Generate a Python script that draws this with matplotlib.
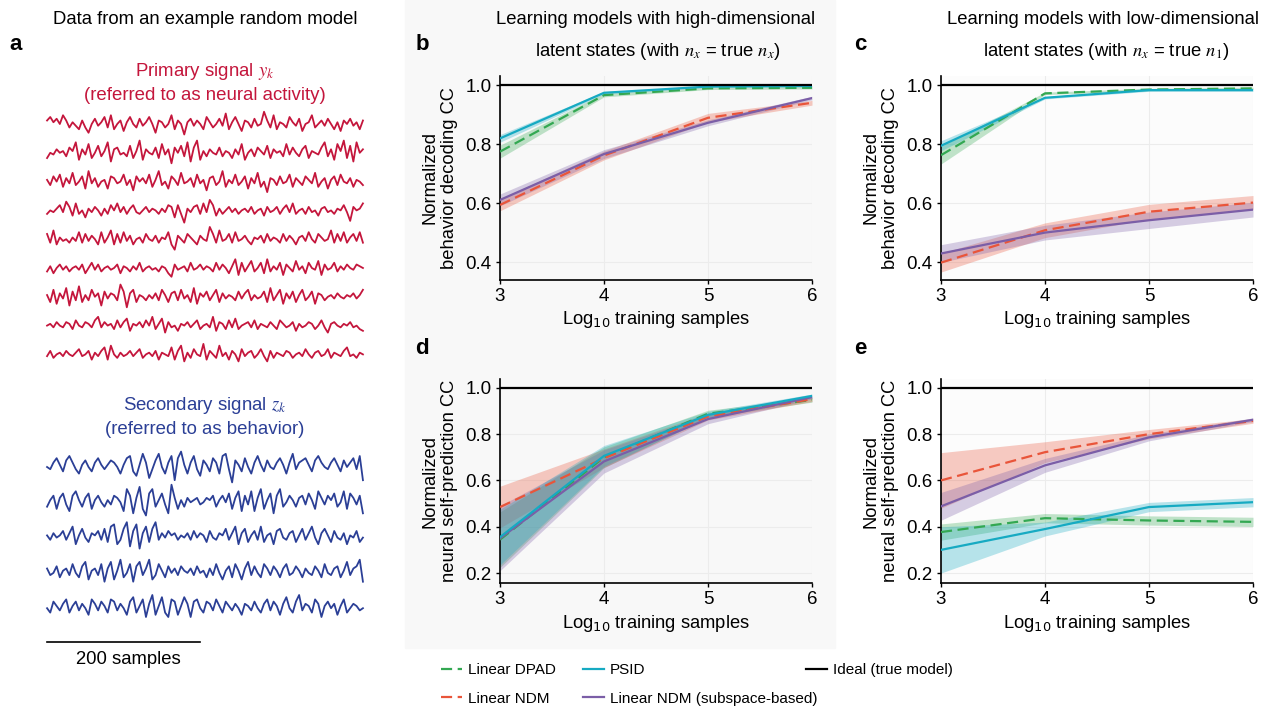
import numpy as np
import matplotlib
matplotlib.use("Agg")
import matplotlib.pyplot as plt
from matplotlib.patches import Rectangle
from matplotlib.lines import Line2D

plt.rcParams['font.family'] = ['Liberation Sans', 'DejaVu Sans']
plt.rcParams['mathtext.fontset'] = 'stix'

W, H = 1281, 711

# ---- example random model traces (arbitrary units) ----
red_traces = [
    [2,4,1,3,0,5,2,-2,1,-1,-3,2,-2,-5,0,3,-1,1,4,-2,5,-3,0,2,-4,1,4,0,-2,3,-1,1,4,0,-5,2,1,-2,0,5,-3,2,0,-6,1,3,-1,2,0,-3,4,1,-2,0,3,-1,6,-3,1,4,0,-4,2,1,-2,3,-1,0,7,2,-2,5,-3,1,0,-2,4,1,-1,3,-4,0,1,5,-2,0,2,-1,3,0,-3,1,-4,2,0,3,-1,1,-3,2],
    [-3,0,-1,2,0,1,-2,3,1,6,-4,2,-1,5,-3,0,4,-2,1,6,-5,2,3,-1,0,-2,4,-3,1,7,-4,2,0,-1,3,-3,5,-1,2,-6,3,0,4,-2,6,-5,3,7,-4,1,-2,2,0,-1,3,-2,1,0,-3,2,-1,5,-4,0,2,-2,3,1,-1,4,-3,2,0,1,-2,5,-1,3,0,-2,2,4,-3,1,0,-1,3,6,-2,2,-4,5,1,7,-3,4,-5,6,0,2],
    [1,-2,3,0,4,-3,2,-1,5,-2,0,3,-4,6,-1,2,-3,0,1,-4,3,2,-1,0,4,-2,1,-5,3,0,2,-1,4,-3,1,6,-2,0,-4,3,1,-2,5,-1,0,2,-3,4,-1,1,-5,2,3,-2,0,6,-3,1,-1,4,-2,0,3,-4,2,-1,5,-3,0,-6,2,1,-2,3,-1,0,4,-3,2,0,-2,3,1,-1,5,-3,0,2,-4,1,3,-2,4,0,-1,2,-3,1,0,-2],
    [-2,0,-1,1,3,-1,5,2,-3,4,-2,0,-4,1,-1,2,0,-3,1,-2,3,0,4,-1,2,-2,1,3,-1,-2,0,2,-1,1,0,-2,1,-1,3,2,-4,3,-2,-7,1,-1,2,3,-2,4,-1,6,3,-3,1,-2,0,2,-1,1,-2,0,1,-1,2,-2,0,1,-3,2,-1,0,2,-2,1,3,-1,4,-2,0,1,-2,2,-1,0,-3,1,2,-1,0,-2,1,0,3,-1,-6,2,0,1,4],
    [3,-2,5,-3,1,-1,0,-2,1,-1,4,-2,3,-1,2,0,-3,4,-2,1,5,-3,3,-2,4,-1,2,-3,0,1,-2,3,0,-1,2,-2,1,0,4,-3,-6,2,0,-2,3,1,-1,-3,2,0,-1,7,3,-2,5,-1,0,3,-2,4,-1,0,2,-1,-3,1,0,2,-2,3,-1,1,0,-2,3,-1,2,0,-3,1,2,-1,4,0,-2,3,1,-1,0,5,-2,3,-1,4,-2,1,3,-1,4,-2],
    [-2,1,-3,0,2,-1,1,-2,0,1,-1,2,-3,0,3,-1,2,-2,0,1,-1,0,2,-3,1,0,-2,1,-1,3,-2,0,1,-1,0,-2,1,0,-3,-5,2,-1,0,1,-2,3,-1,0,2,-1,1,0,-2,3,-1,2,0,-3,1,5,-4,3,-2,1,4,-2,0,3,-3,5,-2,1,-1,3,-4,2,0,-2,4,-1,1,-3,3,0,-1,4,-4,2,-1,0,3,-2,1,-1,2,0,-1,2,1,0],
    [1,-3,4,-4,2,-1,5,-5,3,-2,6,-3,1,-2,4,0,2,-5,3,-1,2,1,-2,7,3,-6,2,4,-3,1,0,-2,1,-1,2,-2,4,1,-3,2,3,-2,4,-1,1,-3,5,-4,2,0,3,-2,1,4,-3,2,-1,1,0,-2,3,-1,2,4,-2,1,-1,0,3,-3,5,-2,1,4,-4,2,-1,3,-3,1,4,-2,0,3,-4,2,1,-2,0,1,-1,2,0,-1,1,0,2,-1,1,4],
    [0,1,-1,2,0,-1,2,1,-2,3,0,-1,2,1,-1,3,5,-1,2,0,1,-2,3,-1,2,4,-3,1,0,2,-1,3,0,5,-2,1,4,-4,2,-1,0,-3,1,0,2,-1,1,3,-2,0,1,-1,5,-3,2,1,-2,3,-1,4,-2,0,1,2,-1,3,-2,1,0,-1,2,0,-2,3,1,-1,0,2,-3,1,-1,0,2,1,-2,0,3,-1,-4,1,2,0,-1,1,0,2,-1,0,-2,-3],
    [-1,2,-2,0,1,-1,2,0,-1,1,3,-1,0,2,-3,1,-1,2,4,-3,5,0,-2,1,-1,0,2,-1,1,3,-2,0,1,-1,2,-3,1,0,-1,4,-3,2,5,-4,1,-2,3,0,-1,6,-3,2,0,-2,5,-1,1,-3,2,0,-4,3,-1,1,2,-2,0,3,-1,-4,2,-2,1,0,-1,2,1,-2,0,1,-1,3,0,-2,1,2,-1,0,3,-2,1,0,-1,2,4,-1,0,-2,1,0],
]
blue_traces = [
    [0,-1,2,4,1,-2,3,5,2,-1,-3,1,3,0,-2,2,4,1,-1,1,3,2,0,-3,1,4,5,-2,-4,1,6,2,-5,-1,3,6,0,-3,2,5,-6,4,7,1,-3,2,5,-1,-4,3,1,-2,4,2,-3,5,6,-1,-7,3,1,-2,4,0,-3,2,5,1,-2,3,0,-1,2,4,1,-3,2,6,-1,2,3,4,1,-2,3,5,2,0,-1,2,4,1,-2,3,0,2,4,-1,5,-6],
    [-2,1,3,-3,2,4,-1,-4,3,5,1,-2,2,4,-3,1,3,0,-2,1,-1,3,2,0,-4,6,3,-5,2,7,-3,-6,4,6,-2,1,4,-1,-5,8,2,-3,1,-2,2,0,1,2,-1,0,2,1,3,-2,1,3,0,4,-3,2,5,-4,3,-1,5,-4,2,6,-3,1,4,-5,3,6,-2,0,3,1,-2,2,3,-1,4,1,-3,5,2,-1,3,1,4,-2,0,5,-3,4,2,-1,3,-5],
    [1,-1,2,0,1,3,-1,2,5,-3,1,4,0,-2,2,1,3,-1,4,-2,5,6,-3,-1,4,7,-4,3,6,-5,2,5,-2,4,7,-1,2,0,3,1,2,-1,1,0,2,-1,3,0,2,1,-2,3,0,-1,2,1,4,-1,2,5,-3,2,4,-2,1,3,-1,5,-2,1,2,-3,3,4,0,-1,2,3,-2,1,4,-1,2,5,0,-3,2,4,1,-2,3,0,-1,2,-3,1,0,3,-2,0],
    [2,-1,0,3,-2,1,2,-1,4,0,-2,3,5,-3,1,2,-1,4,-4,2,5,-3,1,6,-2,0,4,-4,3,5,-1,2,6,-3,-1,4,1,-2,3,0,2,-1,3,1,0,2,-1,3,0,1,-2,2,-1,4,0,-3,1,3,-2,4,1,-3,2,5,-1,3,0,-2,4,2,-1,3,1,-2,2,4,-1,0,3,1,-2,2,0,-1,3,1,-2,4,0,-1,2,3,-2,1,5,-1,2,3,6,-4],
    [0,-2,3,1,-1,2,4,-2,1,3,-1,2,0,-3,4,2,-1,3,1,-2,4,3,-1,2,0,-3,3,5,-2,1,4,-4,2,6,-3,1,5,-2,-4,4,3,-3,1,5,2,-4,3,4,0,-2,3,2,-1,4,1,-2,3,1,-1,2,0,-3,2,1,-1,3,0,-2,2,4,-1,3,1,-3,2,5,0,-2,3,6,-1,2,1,-2,4,2,-4,1,3,0,2,-3,1,4,-2,0,2,1,-1,0],
]
trace_samples = 413
scale_bar_samples = 200

# ---- learning curves: mean and half-width of shaded band ----
log_samples = [3, 4, 5, 6]

b_dpad = [0.775, 0.967, 0.990, 0.992]; b_dpad_err = [0.022, 0.006, 0.004, 0.004]
b_ndm  = [0.594, 0.762, 0.890, 0.941]; b_ndm_err  = [0.020, 0.015, 0.015, 0.008]
b_psid = [0.820, 0.975, 0.996, 0.998]; b_psid_err = [0.013, 0.004, 0.002, 0.002]
b_sub  = [0.611, 0.767, 0.873, 0.957]; b_sub_err  = [0.020, 0.015, 0.010, 0.006]

c_dpad = [0.763, 0.973, 0.986, 0.990]; c_dpad_err = [0.030, 0.004, 0.004, 0.004]
c_ndm  = [0.398, 0.508, 0.571, 0.602]; c_ndm_err  = [0.032, 0.025, 0.025, 0.024]
c_psid = [0.795, 0.958, 0.984, 0.984]; c_psid_err = [0.017, 0.004, 0.004, 0.004]
c_sub  = [0.429, 0.500, 0.542, 0.578]; c_sub_err  = [0.030, 0.025, 0.028, 0.025]

d_dpad = [0.344, 0.700, 0.888, 0.948]; d_dpad_err = [0.120, 0.045, 0.015, 0.010]
d_ndm  = [0.485, 0.696, 0.876, 0.951]; d_ndm_err  = [0.090, 0.040, 0.015, 0.010]
d_psid = [0.355, 0.706, 0.883, 0.965]; d_psid_err = [0.120, 0.045, 0.015, 0.008]
d_sub  = [0.350, 0.682, 0.865, 0.960]; d_sub_err  = [0.140, 0.050, 0.020, 0.008]

e_dpad = [0.377, 0.437, 0.427, 0.421]; e_dpad_err = [0.035, 0.020, 0.020, 0.020]
e_ndm  = [0.600, 0.722, 0.800, 0.857]; e_ndm_err  = [0.120, 0.045, 0.020, 0.010]
e_psid = [0.300, 0.390, 0.485, 0.506]; e_psid_err = [0.100, 0.030, 0.020, 0.020]
e_sub  = [0.488, 0.665, 0.786, 0.862]; e_sub_err  = [0.060, 0.030, 0.015, 0.008]

C_DPAD, C_NDM, C_PSID, C_SUB = '#33a852', '#e9553a', '#16aac2', '#7b5ea7'
RED, BLUE = '#c4163c', '#2b3f96'
GREY_BG = '#f8f8f8'


def px_axes(fig, x0, y0, x1, y1):
    return fig.add_axes([x0 / W, 1 - y1 / H, (x1 - x0) / W, (y1 - y0) / H])


def ftext(fig, x, y, s, **kw):
    kw.setdefault('ha', 'center')
    kw.setdefault('va', 'center')
    return fig.text(x / W, 1 - y / H, s, **kw)


fig = plt.figure(figsize=(W / 100, H / 100), dpi=100)
fig.add_artist(Rectangle((405 / W, 1 - 648 / H), 430 / W, 648 / H,
                         transform=fig.transFigure, color=GREY_BG, zorder=0))

# ---- panel a: traces ----
ax_a = px_axes(fig, 44, 100, 366, 660)
ax_a.set_xlim(-4, trace_samples + 4)
ax_a.set_ylim(660, 100)
ax_a.axis('off')
for i, tr in enumerate(red_traces):
    x = np.linspace(0, trace_samples, len(tr))
    ax_a.plot(x, 124 + i * 28.8 - 1.75 * np.array(tr), color=RED, lw=1.3)
for i, tr in enumerate(blue_traces):
    x = np.linspace(0, trace_samples, len(tr))
    ax_a.plot(x, 467 + i * 35.3 - 2.2 * np.array(tr), color=BLUE, lw=1.3)
ax_a.plot([0, scale_bar_samples], [642, 642], color='black', lw=1.2, clip_on=False)

ftext(fig, 128, 660, '%d samples' % scale_bar_samples, fontsize=13.3)
ftext(fig, 205, 20, 'Data from an example random model', fontsize=13.3)
ftext(fig, 205, 71, 'Primary signal $y_k$', fontsize=13.4, color=RED)
ftext(fig, 205, 95, '(referred to as neural activity)', fontsize=13.4, color=RED)
ftext(fig, 205, 406, 'Secondary signal $z_k$', fontsize=13.4, color=BLUE)
ftext(fig, 205, 430, '(referred to as behavior)', fontsize=13.4, color=BLUE)

# ---- panels b-e ----


def curve_panel(ax, series, ylim, yticks, ylabel, face):
    ax.set_facecolor(face)
    for mean, err, color, dashed in series:
        m = np.array(mean); e = np.array(err)
        ax.fill_between(log_samples, m - e, m + e, color=color, alpha=0.3, lw=0)
    ax.axhline(1.0, color='black', lw=1.6, zorder=5)
    for mean, err, color, dashed in series:
        if dashed:
            ax.plot(log_samples, mean, color=color, lw=1.6, dashes=(5, 2.5), zorder=4)
        else:
            ax.plot(log_samples, mean, color=color, lw=1.6, zorder=4)
    ax.set_xlim(3, 6)
    ax.set_ylim(*ylim)
    ax.set_xticks(log_samples)
    ax.set_yticks(yticks)
    ax.set_yticklabels(['%.1f' % t for t in yticks])
    for s in ['top', 'right']:
        ax.spines[s].set_visible(False)
    for s in ['left', 'bottom']:
        ax.spines[s].set_linewidth(1.2)
    ax.grid(True, color='#ececec', lw=0.8)
    ax.set_axisbelow(True)
    ax.tick_params(length=3, width=1, labelsize=13.5, pad=3)
    ax.set_xlabel('Log$_{10}$ training samples', fontsize=13.2, labelpad=3,
                  math_fontfamily='dejavusans')
    ax.set_ylabel(ylabel, fontsize=13.2, labelpad=5, linespacing=1.2)


def series_of(dpad, dpad_e, ndm, ndm_e, sub, sub_e, psid, psid_e):
    return [(dpad, dpad_e, C_DPAD, True), (ndm, ndm_e, C_NDM, True),
            (sub, sub_e, C_SUB, False), (psid, psid_e, C_PSID, False)]


beh_lim, beh_ticks = (0.339, 1.032), [0.4, 0.6, 0.8, 1.0]
nrl_lim, nrl_ticks = (0.157, 1.038), [0.2, 0.4, 0.6, 0.8, 1.0]
beh_label = 'Normalized\nbehavior decoding CC'
nrl_label = 'Normalized\nneural self-prediction CC'

ax_b = px_axes(fig, 500, 76, 812, 280)
curve_panel(ax_b, series_of(b_dpad, b_dpad_err, b_ndm, b_ndm_err, b_sub, b_sub_err, b_psid, b_psid_err),
            beh_lim, beh_ticks, beh_label, GREY_BG)
ax_c = px_axes(fig, 941, 76, 1253, 280)
curve_panel(ax_c, series_of(c_dpad, c_dpad_err, c_ndm, c_ndm_err, c_sub, c_sub_err, c_psid, c_psid_err),
            beh_lim, beh_ticks, beh_label, '#fcfcfc')
ax_d = px_axes(fig, 500, 379, 812, 583)
curve_panel(ax_d, series_of(d_dpad, d_dpad_err, d_ndm, d_ndm_err, d_sub, d_sub_err, d_psid, d_psid_err),
            nrl_lim, nrl_ticks, nrl_label, GREY_BG)
ax_e = px_axes(fig, 941, 379, 1253, 583)
curve_panel(ax_e, series_of(e_dpad, e_dpad_err, e_ndm, e_ndm_err, e_sub, e_sub_err, e_psid, e_psid_err),
            nrl_lim, nrl_ticks, nrl_label, '#fcfcfc')

# titles
ftext(fig, 656, 20, 'Learning models with high-dimensional', fontsize=13.3)
ftext(fig, 658, 51, 'latent states (with $n_x$ = true $n_x$)', fontsize=13.3)
ftext(fig, 1103, 20, 'Learning models with low-dimensional', fontsize=13.3)
ftext(fig, 1106, 51, 'latent states (with $n_x$ = true $n_1$)', fontsize=13.3)

# panel letters
for letter, x, y in [('a', 16, 45), ('b', 422, 45), ('c', 860, 45), ('d', 422, 348), ('e', 860, 348)]:
    ftext(fig, x, y, letter, fontsize=16, fontweight='bold')

# ---- legend ----
leg_font = {'family': ['Liberation Sans Narrow', 'Liberation Sans'], 'size': 11}
def add_legend(handles, labels, x, y):
    fig.legend(handles, labels, loc='upper left', bbox_to_anchor=(x / W, 1 - y / H),
               frameon=False, prop=leg_font, handlelength=1.4, handletextpad=0.35,
               borderpad=0, borderaxespad=0, labelspacing=0.95)

h_dpad = Line2D([], [], color=C_DPAD, lw=1.6, dashes=(5, 2.5))
h_ndm = Line2D([], [], color=C_NDM, lw=1.6, dashes=(5, 2.5))
h_psid = Line2D([], [], color=C_PSID, lw=1.6)
h_sub = Line2D([], [], color=C_SUB, lw=1.6)
h_ideal = Line2D([], [], color='black', lw=1.6)
add_legend([h_dpad, h_ndm], ['Linear DPAD', 'Linear NDM'], 441, 663)
add_legend([h_psid, h_sub], ['PSID', 'Linear NDM (subspace-based)'], 583, 663)
add_legend([h_ideal], ['Ideal (true model)'], 806, 663)

fig.savefig('out.png', dpi=100)
